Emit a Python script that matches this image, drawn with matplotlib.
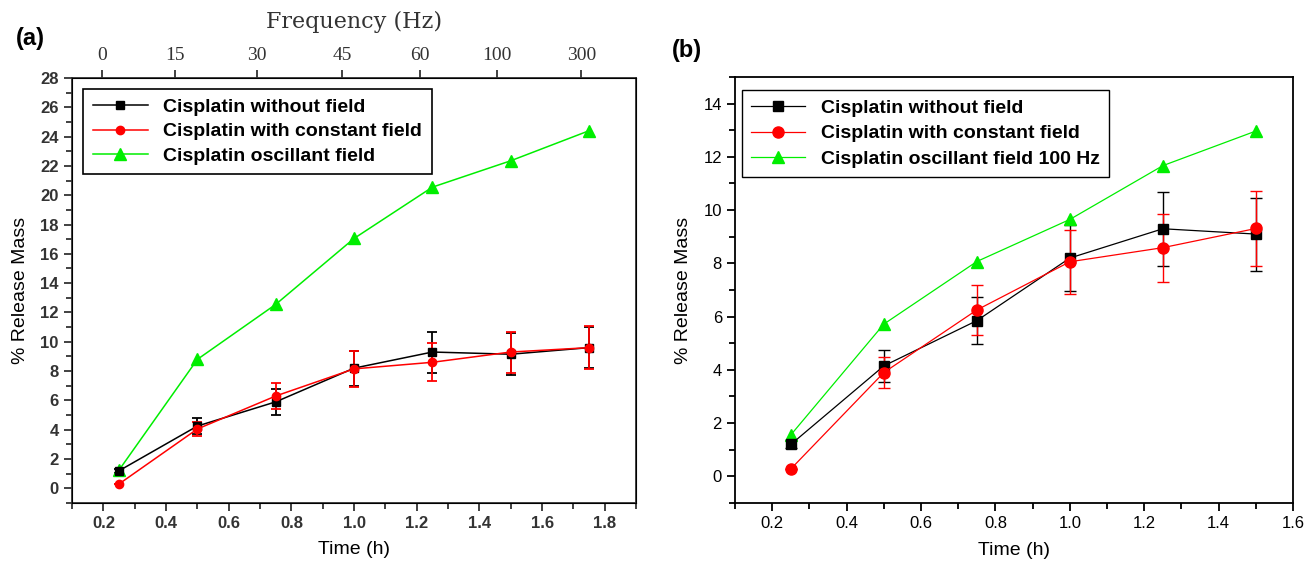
import matplotlib.pyplot as plt
from matplotlib.ticker import MultipleLocator

# panel (a) data
time_a = [0.25, 0.5, 0.75, 1.0, 1.25, 1.5, 1.75]
no_field_a = [1.2, 4.25, 5.9, 8.2, 9.3, 9.15, 9.6]
no_field_err_a = [0.15, 0.55, 0.9, 1.2, 1.4, 1.45, 1.4]
const_a = [0.3, 4.05, 6.3, 8.15, 8.6, 9.3, 9.6]
const_err_a = [0.0, 0.5, 0.9, 1.25, 1.3, 1.4, 1.45]
osc_a = [1.25, 8.8, 12.55, 17.05, 20.55, 22.35, 24.4]

freq_labels = ['0', '15', '30', '45', '60', '100', '300']
freq_pos = [0.197, 0.43, 0.689, 0.963, 1.209, 1.456, 1.725]

# panel (b) data
time_b = [0.25, 0.5, 0.75, 1.0, 1.25, 1.5]
no_field_b = [1.2, 4.15, 5.85, 8.2, 9.3, 9.1]
no_field_err_b = [0.15, 0.6, 0.88, 1.25, 1.39, 1.37]
const_b = [0.28, 3.9, 6.25, 8.06, 8.59, 9.31]
const_err_b = [0.0, 0.58, 0.93, 1.2, 1.28, 1.4]
osc_b = [1.56, 5.72, 8.07, 9.65, 11.67, 12.97]

labels_a = ['Cisplatin without field', 'Cisplatin with constant field',
            'Cisplatin oscillant field']
labels_b = ['Cisplatin without field', 'Cisplatin with constant field',
            'Cisplatin oscillant field 100 Hz']

GREEN = '#00ee00'
legend_font = {'family': 'Liberation Sans', 'weight': 'bold', 'size': 14}
fig = plt.figure(figsize=(13.15, 5.67), dpi=100)

# ---------------- (a) ----------------
ax = fig.add_axes([0.0548, 0.1129, 0.4289, 0.7496])
e1 = ax.errorbar(time_a, no_field_a, yerr=no_field_err_a, color='black', marker='s',
                 ms=6, lw=1.1, elinewidth=1.3, capsize=3.5, capthick=1.3)
e2 = ax.errorbar(time_a, const_a, yerr=const_err_a, color='red', marker='o',
                 ms=6, lw=1.1, elinewidth=1.3, capsize=3.5, capthick=1.3)
g1, = ax.plot(time_a, osc_a, color=GREEN, marker='^', ms=9, lw=1.1)
ax.set_xlim(0.1, 1.9)
ax.set_ylim(-1, 28)
ax.set_xticks([0.2, 0.4, 0.6, 0.8, 1.0, 1.2, 1.4, 1.6, 1.8])
ax.set_xticklabels(['0.2', '0.4', '0.6', '0.8', '1.0', '1.2', '1.4', '1.6', '1.8'])
ax.xaxis.set_minor_locator(MultipleLocator(0.1))
ax.set_yticks(range(0, 29, 2))
ax.yaxis.set_minor_locator(MultipleLocator(1))
ax.tick_params(which='both', direction='out', colors='#333333', width=1.3,
               labelsize=12, top=False, right=False)
ax.tick_params(which='major', length=6)
ax.tick_params(which='minor', length=4)
for lab in ax.get_xticklabels() + ax.get_yticklabels():
    lab.set_fontfamily('Liberation Sans')
    lab.set_fontweight('bold')
for s in ax.spines.values():
    s.set_color('#333333')
    s.set_linewidth(1.3)
ax.set_xlabel('Time (h)', fontsize=14, family='Liberation Sans', labelpad=7)
ax.set_ylabel('% Release Mass', fontsize=14, family='Liberation Sans', labelpad=8)

top = ax.twiny()
top.set_xlim(ax.get_xlim())
top.set_xticks(freq_pos)
top.set_xticklabels(freq_labels, fontsize=14, family='Liberation Serif', color='#333333')
top.tick_params(direction='out', length=6, width=1.3, colors='#333333', pad=4)
top.set_xlabel('Frequency (Hz)', fontsize=16, family='DejaVu Serif', labelpad=14,
               color='#333333')

leg = ax.legend([e1.lines[0], e2.lines[0], g1], labels_a, loc='upper left',
                bbox_to_anchor=(0.02, 0.975), borderaxespad=0,
                fancybox=False, framealpha=1, edgecolor='black', handlelength=2.8,
                prop=legend_font, labelspacing=0.35, borderpad=0.5)
leg.get_frame().set_linewidth(1.2)
fig.text(0.012, 0.92, '(a)', fontsize=17, fontweight='bold', family='Liberation Sans')

# ---------------- (b) ----------------
bx = fig.add_axes([0.559, 0.1129, 0.4243, 0.7513])
f1 = bx.errorbar(time_b, no_field_b, yerr=no_field_err_b, color='black', marker='s',
                 ms=7, lw=0.9, elinewidth=1.0, capsize=4, capthick=1.0)
f2 = bx.errorbar(time_b, const_b, yerr=const_err_b, color='red', marker='o',
                 ms=8, lw=0.9, elinewidth=1.0, capsize=4, capthick=1.0)
g2, = bx.plot(time_b, osc_b, color=GREEN, marker='^', ms=9, lw=0.9)
bx.set_xlim(0.1, 1.6)
bx.set_ylim(-1, 15)
bx.set_xticks([0.2, 0.4, 0.6, 0.8, 1.0, 1.2, 1.4, 1.6])
bx.set_xticklabels(['0.2', '0.4', '0.6', '0.8', '1.0', '1.2', '1.4', '1.6'])
bx.xaxis.set_minor_locator(MultipleLocator(0.1))
bx.set_yticks(range(0, 15, 2))
bx.yaxis.set_minor_locator(MultipleLocator(1))
bx.tick_params(which='both', direction='out', width=1.3, labelsize=12,
               top=False, right=False)
bx.tick_params(which='major', length=6)
bx.tick_params(which='minor', length=4)
for lab in bx.get_xticklabels() + bx.get_yticklabels():
    lab.set_fontfamily('Liberation Sans')
for s in bx.spines.values():
    s.set_linewidth(1.3)
bx.set_xlabel('Time (h)', fontsize=14, family='Liberation Sans', labelpad=8)
bx.set_ylabel('% Release Mass', fontsize=14, family='Liberation Sans', labelpad=8)
leg2 = bx.legend([f1.lines[0], f2.lines[0], g2], labels_b, loc='upper left',
                 bbox_to_anchor=(0.0125, 0.969), borderaxespad=0,
                 fancybox=False, framealpha=1, edgecolor='black', handlelength=2.8,
                 prop=legend_font, labelspacing=0.42, borderpad=0.45)
leg2.get_frame().set_linewidth(1.0)
fig.text(0.511, 0.9, '(b)', fontsize=17, fontweight='bold', family='Liberation Sans')

plt.savefig('out.png', dpi=100)
